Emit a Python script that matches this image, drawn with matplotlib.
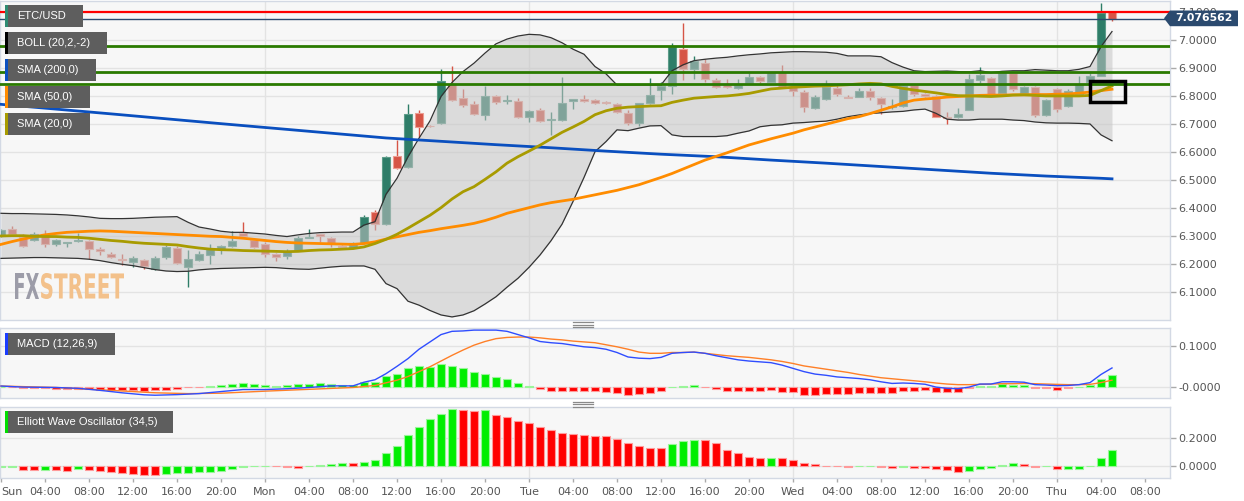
import numpy as np
import matplotlib
matplotlib.use('Agg')
import matplotlib.pyplot as plt
import matplotlib.transforms as mtransforms
from matplotlib.patches import Rectangle, Polygon, PathPatch
from matplotlib.lines import Line2D
from matplotlib.textpath import TextPath
from matplotlib.font_manager import FontProperties

plt.rcParams['font.family'] = ['Liberation Sans', 'DejaVu Sans']

# ---- hourly ETC/USD candles (hour 0 = Sun 00:00) ----
opens = [6.301, 6.326, 6.296, 6.287, 6.307, 6.271, 6.277, 6.282, 6.283, 6.255,
         6.237, 6.218, 6.207, 6.216, 6.182, 6.225, 6.258, 6.192, 6.215, 6.233,
         6.253, 6.266, 6.311, 6.287, 6.272, 6.237, 6.230, 6.251, 6.293, 6.307,
         6.293, 6.266, 6.257, 6.275, 6.387, 6.344, 6.588, 6.546, 6.739, 6.694,
         6.703, 6.843, 6.793, 6.771, 6.733, 6.801, 6.782, 6.784, 6.727, 6.750,
         6.714, 6.715, 6.783, 6.790, 6.787, 6.778, 6.771, 6.739, 6.703, 6.777,
         6.822, 6.838, 6.969, 6.896, 6.918, 6.858, 6.839, 6.829, 6.849, 6.868,
         6.851, 6.886, 6.834, 6.814, 6.758, 6.789, 6.828, 6.799, 6.799, 6.819,
         6.795, 6.760, 6.765, 6.840, 6.807, 6.801, 6.725, 6.727, 6.751, 6.858,
         6.864, 6.813, 6.884, 6.810, 6.832, 6.733, 6.825, 6.765, 6.808, 6.852,
         6.872, 7.099]
highs = [6.325, 6.337, 6.307, 6.315, 6.322, 6.289, 6.281, 6.313, 6.285, 6.263,
         6.243, 6.235, 6.229, 6.218, 6.228, 6.269, 6.265, 6.251, 6.246, 6.272,
         6.269, 6.320, 6.350, 6.291, 6.280, 6.240, 6.254, 6.302, 6.325, 6.308,
         6.299, 6.268, 6.280, 6.376, 6.393, 6.585, 6.644, 6.772, 6.751, 6.697,
         6.896, 6.907, 6.825, 6.783, 6.837, 6.805, 6.805, 6.792, 6.751, 6.757,
         6.745, 6.868, 6.790, 6.805, 6.789, 6.783, 6.775, 6.751, 6.777, 6.864,
         6.852, 6.990, 7.061, 6.944, 6.932, 6.864, 6.860, 6.860, 6.882, 6.873,
         6.886, 6.912, 6.834, 6.822, 6.805, 6.858, 6.840, 6.803, 6.831, 6.828,
         6.799, 6.790, 6.840, 6.845, 6.810, 6.804, 6.742, 6.757, 6.880, 6.903,
         6.868, 6.887, 6.884, 6.837, 6.835, 6.789, 6.829, 6.825, 6.872, 6.884,
         7.134, 7.106]
lows = [6.298, 6.305, 6.262, 6.284, 6.260, 6.264, 6.260, 6.279, 6.219, 6.233,
        6.221, 6.197, 6.192, 6.182, 6.180, 6.218, 6.201, 6.118, 6.213, 6.200,
        6.237, 6.263, 6.296, 6.258, 6.227, 6.213, 6.218, 6.249, 6.293, 6.281,
        6.261, 6.260, 6.255, 6.273, 6.322, 6.340, 6.540, 6.544, 6.653, 6.690,
        6.700, 6.782, 6.761, 6.733, 6.715, 6.773, 6.773, 6.724, 6.709, 6.709,
        6.662, 6.712, 6.755, 6.780, 6.772, 6.771, 6.739, 6.697, 6.694, 6.774,
        6.787, 6.807, 6.858, 6.861, 6.852, 6.828, 6.831, 6.825, 6.849, 6.849,
        6.850, 6.832, 6.801, 6.742, 6.755, 6.785, 6.802, 6.792, 6.796, 6.787,
        6.736, 6.755, 6.762, 6.800, 6.798, 6.725, 6.700, 6.724, 6.751, 6.849,
        6.801, 6.810, 6.820, 6.805, 6.727, 6.731, 6.745, 6.763, 6.805, 6.850,
        6.871, 7.070]
closes = [6.322, 6.307, 6.266, 6.307, 6.271, 6.286, 6.279, 6.288, 6.255, 6.248,
          6.227, 6.215, 6.221, 6.194, 6.224, 6.260, 6.206, 6.218, 6.237, 6.253,
          6.265, 6.283, 6.300, 6.263, 6.235, 6.227, 6.245, 6.293, 6.299, 6.301,
          6.277, 6.262, 6.277, 6.368, 6.343, 6.582, 6.545, 6.737, 6.691, 6.692,
          6.853, 6.788, 6.769, 6.737, 6.801, 6.780, 6.786, 6.727, 6.749, 6.713,
          6.720, 6.777, 6.789, 6.784, 6.777, 6.775, 6.742, 6.703, 6.775, 6.805,
          6.838, 6.977, 6.896, 6.924, 6.862, 6.834, 6.833, 6.840, 6.867, 6.853,
          6.886, 6.834, 6.818, 6.763, 6.799, 6.834, 6.807, 6.795, 6.820, 6.799,
          6.771, 6.766, 6.837, 6.807, 6.802, 6.727, 6.722, 6.737, 6.861, 6.876,
          6.805, 6.884, 6.825, 6.832, 6.733, 6.787, 6.753, 6.820, 6.844, 6.872,
          7.096, 7.0766]

# Bollinger (20,2) and SMAs, one value per candle
boll_upper = [6.382, 6.381, 6.381, 6.380, 6.379, 6.378, 6.376, 6.373, 6.369, 6.364,
              6.363, 6.363, 6.364, 6.366, 6.368, 6.369, 6.370, 6.350, 6.333, 6.326,
              6.318, 6.314, 6.314, 6.311, 6.308, 6.303, 6.299, 6.305, 6.310, 6.313,
              6.314, 6.315, 6.315, 6.340, 6.352, 6.450, 6.507, 6.584, 6.650, 6.712,
              6.799, 6.849, 6.888, 6.918, 6.954, 6.987, 7.004, 7.015, 7.021, 7.019,
              7.009, 6.991, 6.968, 6.950, 6.906, 6.880, 6.840, 6.840, 6.840, 6.840,
              6.840, 6.891, 6.912, 6.927, 6.932, 6.936, 6.939, 6.944, 6.948, 6.951,
              6.955, 6.957, 6.959, 6.959, 6.958, 6.957, 6.953, 6.944, 6.944, 6.944,
              6.941, 6.920, 6.904, 6.891, 6.888, 6.889, 6.890, 6.888, 6.887, 6.891,
              6.884, 6.889, 6.891, 6.891, 6.895, 6.893, 6.891, 6.891, 6.896, 6.906,
              6.977, 7.031]
boll_lower = [6.221, 6.222, 6.223, 6.224, 6.224, 6.223, 6.222, 6.221, 6.218, 6.213,
              6.206, 6.200, 6.195, 6.188, 6.181, 6.176, 6.174, 6.175, 6.180, 6.183,
              6.185, 6.186, 6.187, 6.188, 6.189, 6.188, 6.185, 6.183, 6.182, 6.186,
              6.190, 6.193, 6.194, 6.194, 6.182, 6.131, 6.113, 6.068, 6.054, 6.035,
              6.019, 6.012, 6.019, 6.034, 6.058, 6.084, 6.118, 6.150, 6.189, 6.233,
              6.284, 6.343, 6.424, 6.510, 6.602, 6.638, 6.680, 6.677, 6.686, 6.694,
              6.695, 6.662, 6.656, 6.656, 6.656, 6.656, 6.659, 6.668, 6.676, 6.691,
              6.696, 6.698, 6.704, 6.706, 6.709, 6.711, 6.718, 6.727, 6.733, 6.738,
              6.741, 6.744, 6.746, 6.751, 6.754, 6.739, 6.718, 6.715, 6.715, 6.718,
              6.718, 6.718, 6.715, 6.713, 6.708, 6.705, 6.704, 6.704, 6.703, 6.701,
              6.662, 6.641]
sma20 = [6.301, 6.302, 6.302, 6.300, 6.299, 6.299, 6.297, 6.296, 6.293, 6.289,
         6.285, 6.282, 6.278, 6.275, 6.273, 6.271, 6.269, 6.263, 6.258, 6.254,
         6.252, 6.251, 6.249, 6.248, 6.247, 6.246, 6.245, 6.246, 6.249, 6.251,
         6.252, 6.254, 6.256, 6.262, 6.274, 6.289, 6.307, 6.329, 6.352, 6.375,
         6.402, 6.433, 6.459, 6.477, 6.503, 6.530, 6.561, 6.584, 6.604, 6.625,
         6.648, 6.671, 6.690, 6.710, 6.734, 6.748, 6.757, 6.761, 6.763, 6.765,
         6.766, 6.778, 6.786, 6.793, 6.796, 6.799, 6.801, 6.805, 6.810, 6.818,
         6.826, 6.829, 6.832, 6.834, 6.836, 6.837, 6.839, 6.841, 6.844, 6.846,
         6.844, 6.835, 6.828, 6.822, 6.817, 6.812, 6.806, 6.802, 6.801, 6.800,
         6.799, 6.801, 6.804, 6.805, 6.803, 6.801, 6.801, 6.801, 6.801, 6.803,
         6.820, 6.837]
sma50 = [6.271, 6.281, 6.290, 6.298, 6.305, 6.310, 6.314, 6.316, 6.318, 6.319,
         6.318, 6.316, 6.314, 6.312, 6.310, 6.308, 6.306, 6.304, 6.302, 6.300,
         6.299, 6.296, 6.293, 6.289, 6.285, 6.281, 6.278, 6.276, 6.275, 6.274,
         6.273, 6.272, 6.271, 6.274, 6.280, 6.290, 6.298, 6.306, 6.314, 6.320,
         6.327, 6.333, 6.339, 6.346, 6.356, 6.368, 6.382, 6.392, 6.402, 6.412,
         6.420, 6.426, 6.432, 6.440, 6.448, 6.456, 6.464, 6.474, 6.484, 6.497,
         6.510, 6.524, 6.540, 6.556, 6.572, 6.585, 6.598, 6.612, 6.626, 6.637,
         6.648, 6.658, 6.668, 6.680, 6.690, 6.700, 6.710, 6.720, 6.727, 6.738,
         6.750, 6.762, 6.776, 6.786, 6.790, 6.793, 6.797, 6.799, 6.801, 6.803,
         6.804, 6.804, 6.805, 6.805, 6.806, 6.806, 6.807, 6.808, 6.811, 6.815,
         6.820, 6.825]
sma200_hours = [0, 10, 20, 30, 35, 40, 45, 50, 55, 60, 65, 70, 75, 80, 85, 90, 95, 100, 101]
sma200 = [6.771, 6.737, 6.702, 6.668, 6.651, 6.639, 6.627, 6.616, 6.604, 6.593,
          6.584, 6.572, 6.561, 6.549, 6.537, 6.525, 6.515, 6.507, 6.505]

price_last = 7.076562
level_red = 7.101
levels_green = [6.980, 6.887, 6.845]

# MACD (12,26,9)
macd_hist = [0.000, -0.002, -0.004, -0.004, -0.004, -0.005, -0.005, -0.006, -0.006, -0.007,
             -0.007, -0.008, -0.009, -0.010, -0.009, -0.007, -0.005, -0.002, -0.001, 0.001,
             0.005, 0.0065, 0.008, 0.007, 0.005, 0.002, 0.004, 0.006, 0.0065, 0.008,
             0.006, 0.004, 0.005, 0.011, 0.011, 0.026, 0.032, 0.046, 0.050, 0.049,
             0.055, 0.052, 0.046, 0.035, 0.031, 0.024, 0.018, 0.008, 0.001, -0.006,
             -0.010, -0.010, -0.010, -0.011, -0.011, -0.012, -0.016, -0.020, -0.019, -0.015,
             -0.010, 0.000, 0.001, 0.004, -0.001, -0.005, -0.010, -0.010, -0.010, -0.010,
             -0.009, -0.012, -0.014, -0.020, -0.020, -0.017, -0.017, -0.017, -0.015, -0.015,
             -0.015, -0.015, -0.010, -0.010, -0.008, -0.013, -0.014, -0.014, -0.004, 0.001,
             0.002, 0.006, 0.005, 0.004, -0.003, -0.004, -0.007, -0.004, 0.000, 0.005,
             0.020, 0.028]
macd_hours = [0, 2, 5, 7, 9, 11, 13, 14, 16, 18, 20, 22, 24, 26, 28, 30, 32, 33, 34,
              35, 36, 37, 38, 39, 40, 41, 42, 43, 44, 45, 46, 47, 48, 49, 50, 51, 52,
              53, 54, 55, 56, 57, 58, 59, 60, 61, 62, 63, 64, 65, 66, 67, 68, 69, 70,
              71, 72, 73, 74, 75, 76, 77, 78, 79, 80, 81, 82, 83, 84, 85, 86, 87, 88,
              89, 90, 91, 92, 93, 94, 95, 96, 97, 98, 99, 100, 101]
macd_line = [0.0016, -0.001, -0.002, -0.004, -0.009, -0.015, -0.020, -0.021, -0.0195, -0.017,
             -0.012, -0.007, -0.007, -0.005, -0.002, 0.002, 0.002, 0.011, 0.017,
             0.032, 0.050, 0.069, 0.092, 0.110, 0.128, 0.136, 0.137, 0.139, 0.139, 0.139,
             0.136, 0.128, 0.120, 0.111, 0.108, 0.106, 0.102, 0.098, 0.096, 0.092, 0.084,
             0.073, 0.070, 0.069, 0.072, 0.082, 0.084, 0.085, 0.082, 0.076, 0.071, 0.066,
             0.063, 0.061, 0.059, 0.053, 0.045, 0.037, 0.031, 0.028, 0.024, 0.022, 0.020,
             0.017, 0.012, 0.008, 0.009, 0.008, 0.006, -0.001, -0.004, -0.005, -0.001,
             0.0065, 0.0065, 0.012, 0.012, 0.011, 0.005, 0.004, 0.0025, 0.003, 0.005,
             0.010, 0.030, 0.046]
signal_hours = [0, 5, 10, 14, 17, 20, 24, 28, 32, 34, 36, 37, 38, 39, 40, 41, 42, 43,
                44, 45, 46, 47, 48, 49, 50, 51, 52, 53, 54, 55, 56, 57, 58, 59, 60, 61,
                62, 63, 64, 65, 66, 67, 68, 69, 70, 71, 72, 73, 74, 75, 76, 77, 78, 79,
                80, 81, 82, 83, 84, 85, 86, 87, 88, 89, 90, 91, 92, 93, 94, 95, 96, 97,
                98, 99, 100, 101]
signal_line = [0.0016, -0.002, -0.009, -0.015, -0.017, -0.016, -0.011, -0.0065, -0.002,
               0.003, 0.016, 0.025, 0.037, 0.049, 0.063, 0.077, 0.090, 0.102, 0.111,
               0.118, 0.121, 0.122, 0.122, 0.120, 0.117, 0.115, 0.112, 0.110, 0.108,
               0.103, 0.098, 0.092, 0.085, 0.082, 0.082, 0.084, 0.084, 0.085, 0.082,
               0.079, 0.076, 0.074, 0.072, 0.069, 0.066, 0.062, 0.057, 0.051, 0.047,
               0.043, 0.039, 0.035, 0.030, 0.026, 0.022, 0.0195, 0.017, 0.0146, 0.012,
               0.009, 0.0065, 0.005, 0.005, 0.0057, 0.0065, 0.0073, 0.0073, 0.008,
               0.0073, 0.0065, 0.0057, 0.005, 0.005, 0.0057, 0.010, 0.016]

# Elliott Wave Oscillator (34,5)
ewo = [-0.007, -0.005, -0.030, -0.031, -0.031, -0.032, -0.033, -0.025, -0.030, -0.035,
       -0.045, -0.050, -0.060, -0.065, -0.066, -0.055, -0.050, -0.049, -0.045, -0.040,
       -0.035, -0.020, -0.005, 0.000, 0.000, -0.003, -0.010, -0.011, -0.003, 0.010,
       0.015, 0.020, 0.019, 0.030, 0.040, 0.090, 0.140, 0.220, 0.280, 0.335,
       0.375, 0.410, 0.400, 0.395, 0.400, 0.365, 0.350, 0.320, 0.310, 0.280,
       0.255, 0.235, 0.230, 0.221, 0.217, 0.214, 0.193, 0.162, 0.145, 0.131,
       0.129, 0.157, 0.179, 0.188, 0.183, 0.164, 0.117, 0.093, 0.067, 0.057,
       0.058, 0.055, 0.045, 0.024, 0.014, 0.002, -0.002, -0.007, -0.002, -0.001,
       -0.010, -0.015, -0.010, -0.015, -0.016, -0.020, -0.030, -0.045, -0.035, -0.025,
       -0.015, 0.005, 0.020, 0.012, -0.005, -0.003, -0.025, -0.020, -0.018, 0.000,
       0.057, 0.114]

x_labels = ['Sun', '04:00', '08:00', '12:00', '16:00', '20:00',
            'Mon', '04:00', '08:00', '12:00', '16:00', '20:00',
            'Tue', '04:00', '08:00', '12:00', '16:00', '20:00',
            'Wed', '04:00', '08:00', '12:00', '16:00', '20:00',
            'Thu', '04:00', '08:00']

# ---------------------------------------------------------------
W, H = 1244, 501
fig = plt.figure(figsize=(W / 100, H / 100), dpi=100)
fig.patch.set_facecolor('white')


def px_box(x0, y0, x1, y1):
    return [x0 / W, 1 - y1 / H, (x1 - x0) / W, (y1 - y0) / H]


ax = fig.add_axes(px_box(0, 1, 1170, 320))
ax_m = fig.add_axes(px_box(0, 328.4, 1170, 398))
ax_e = fig.add_axes(px_box(0, 407.4, 1170, 477.7))

hours = np.arange(len(opens))
x_lo, x_hi = -1 / 11, 1169 / 11
grid_c = '#e3e3e3'
tick_font = 'DejaVu Sans'
for a in (ax, ax_m, ax_e):
    a.set_facecolor('#f7f7f7')
    for s in a.spines.values():
        s.set_color('#d3d9e4')
        s.set_linewidth(1)
    a.set_xlim(x_lo, x_hi)
    a.yaxis.tick_right()
    a.tick_params(axis='y', length=4, width=1, color='#aaaaaa', labelcolor='#555555',
                  labelsize=8, pad=2)
    a.grid(axis='y', color=grid_c, lw=1)
    a.set_axisbelow(True)
    for d in (24, 48, 72, 96):
        a.axvline(d, color=grid_c, lw=1, zorder=0.5)

# ---- price panel ----
o, h_, l_, c = map(np.array, (opens, highs, lows, closes))
up = c >= o
col = np.where(up, '#2e7d68', '#d65546')
edge = np.where(up, '#5c9c89', '#ec9d92')
ax.vlines(hours, l_, h_, colors=col, lw=1, zorder=2)
ax.bar(hours, np.maximum(np.abs(c - o), 0.002), bottom=np.minimum(o, c), width=0.68,
       color=col, edgecolor=edge, linewidth=0.8, zorder=2.1)

ax.fill_between(hours, boll_lower, boll_upper, color='#c4c4c4', alpha=0.55, lw=0, zorder=3)
ax.plot(hours, boll_upper, color='#333333', lw=0.9, zorder=4)
ax.plot(hours, boll_lower, color='#333333', lw=0.9, zorder=4)
ax.plot(sma200_hours, sma200, color='#0a4fbf', lw=2, zorder=5)
ax.plot(hours, sma50, color='#ff8c00', lw=2, zorder=5)
ax.plot(hours, sma20, color='#a89b00', lw=2, zorder=5)

ax.axhline(level_red, color='#ff0000', lw=1.6, zorder=6)
ax.axhline(price_last, color='#2b4a6f', lw=1, zorder=6)
for lv in levels_green:
    ax.axhline(lv, color='#2a7a00', lw=2, zorder=6)
ax.add_patch(Rectangle((99.0, 6.778), 3.2, 0.078, fill=False, ec='black', lw=2.5, zorder=7))

ax.set_ylim(6.001, 7.140)
yt = np.round(np.arange(6.1, 7.15, 0.1), 1)
ax.set_yticks(yt)
ax.set_yticklabels([f'{v:.4f}' for v in yt], family=tick_font)
ax.set_xticks([])

# ---- MACD panel ----
mh = np.array(macd_hist)
ax_m.bar(hours, mh, width=0.7, color=np.where(mh >= 0, '#00ee00', '#ff0000'),
         edgecolor=np.where(mh >= 0, '#99f599', '#ff9a9a'), linewidth=0.8, zorder=2)
ax_m.plot(signal_hours, signal_line, color='#ff7f27', lw=1, zorder=3)
ax_m.plot(macd_hours, macd_line, color='#2f4dff', lw=1, zorder=4)
ax_m.set_ylim(-0.0278, 0.1432)
ax_m.set_yticks([0.0, 0.1])
ax_m.set_yticklabels(['-0.0000', '0.1000'], family=tick_font)
ax_m.set_xticks([])

# ---- EWO panel ----
ev = np.array(ewo)
rising = np.concatenate([[True], np.diff(ev) >= 0])
ax_e.bar(hours, ev, width=0.7, color=np.where(rising, '#00ee00', '#ff0000'),
         edgecolor=np.where(rising, '#99f599', '#ff9a9a'), linewidth=0.8, zorder=2)
ax_e.set_ylim(-0.0836, 0.4186)
ax_e.set_yticks([0.0, 0.2])
ax_e.set_yticklabels(['0.0000', '0.2000'], family=tick_font)
ax_e.set_xticks(np.arange(0, 105, 4))
ax_e.set_xticklabels(x_labels, family=tick_font)
ax_e.tick_params(axis='x', length=3, width=1, color='#aaaaaa', labelcolor='#555555',
                 labelsize=8, pad=4)
ax_e.get_xticklabels()[0].set_ha('left')

# ---- overlay: legend tags, price tag, handles, watermark ----
tags = [('ETC/USD', '#2e8b72', 5, 83, 5, 27),
        ('BOLL (20,2,-2)', '#000000', 5, 107, 32, 54),
        ('SMA (200,0)', '#0a4fbf', 5, 96, 59, 81),
        ('SMA (50,0)', '#ff8c00', 5, 90, 86, 108),
        ('SMA (20,0)', '#a89b00', 5, 90, 113, 135),
        ('MACD (12,26,9)', '#1a3cff', 5, 115, 333, 355),
        ('Elliott Wave Oscillator (34,5)', '#00dd00', 5, 173, 411, 433)]
for label, strip, x0, x1, y0, y1 in tags:
    fig.add_artist(Rectangle(px_box(x0, y0, x1, y1)[:2], (x1 - x0) / W, (y1 - y0) / H,
                             transform=fig.transFigure, color='#5e5e5e', lw=0, zorder=10))
    fig.add_artist(Rectangle(px_box(x0, y0, x0 + 2.5, y1)[:2], 2.5 / W, (y1 - y0) / H,
                             transform=fig.transFigure, color=strip, lw=0, zorder=11))
    fig.text(17 / W, 1 - (y0 + y1) / 2 / H, label, color='white', fontsize=8,
             va='center', ha='left', zorder=12)

py = 18.3
tag_pts = [(1164, py), (1170, 10.5), (1238, 10.5), (1238, 26.2), (1170, 26.2)]
fig.add_artist(Polygon([(x / W, 1 - y / H) for x, y in tag_pts], closed=True,
                       transform=fig.transFigure, color='#2b4a6f', lw=0, zorder=10))
fig.text(1204 / W, 1 - py / H, f'{price_last:.6f}', color='white', fontsize=7.8,
         family='DejaVu Sans', fontweight='bold', va='center', ha='center', zorder=11)

for yh in (322, 324.5, 327, 401.5, 404, 406.5):
    fig.add_artist(Line2D([573 / W, 593 / W], [1 - yh / H] * 2, color='#8a8a8a', lw=0.9,
                          transform=fig.transFigure, zorder=10))


def logo(word, x0, x1, y0, y1, color):
    tp = TextPath((0, 0), word, size=10, prop=FontProperties(family='DejaVu Sans', weight='bold'))
    e = tp.get_extents()
    tr = (mtransforms.Affine2D().translate(-e.x0, -e.y0)
          .scale((x1 - x0) / W / e.width, (y1 - y0) / H / e.height)
          .translate(x0 / W, 1 - y1 / H))
    fig.add_artist(PathPatch(tp, transform=tr + fig.transFigure, color=color, lw=0, zorder=9))


logo('FX', 15, 39, 273, 299, '#9c9ca8')
logo('STREET', 41, 124, 273, 299, '#f3c18b')

fig.savefig('out.png', dpi=100, facecolor='white')
